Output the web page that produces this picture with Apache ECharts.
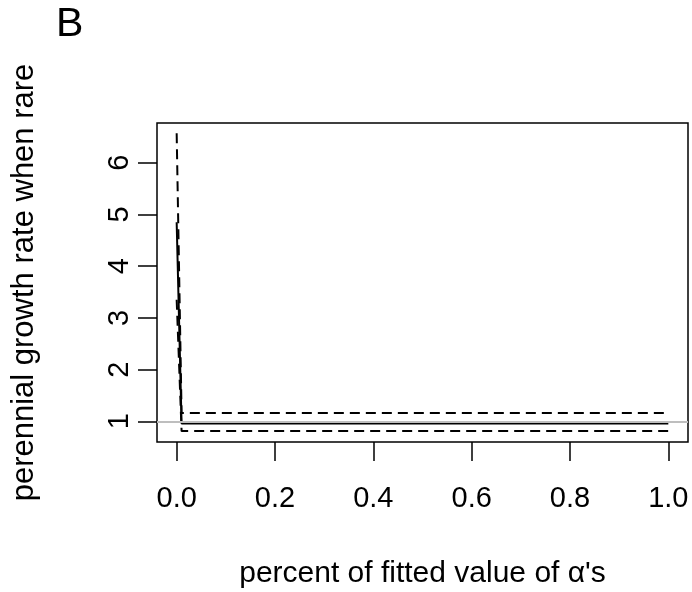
<!DOCTYPE html>
<html>
<head>
<meta charset="utf-8">
<script src="https://cdn.jsdelivr.net/npm/echarts@6/dist/echarts.min.js"></script>
<style>html,body{margin:0;padding:0;background:#fff;}#c{width:692px;height:592px;}</style>
</head>
<body>
<div id="c"></div>
<script>
const xValues = [0, 0.01, 0.25, 0.5, 0.75, 1.0];
const estimate = [4.85, 0.955, 0.955, 0.955, 0.955, 0.955];
const upperCI = [6.57, 1.16, 1.16, 1.16, 1.16, 1.16];
const lowerCI = [3.35, 0.81, 0.81, 0.81, 0.81, 0.81];
const xTicks = [0, 0.2, 0.4, 0.6, 0.8, 1.0];
const yTicks = [1, 2, 3, 4, 5, 6];
const refLine = 1;

const pair = ys => xValues.map((x, i) => [x, ys[i]]);
const font = "'Liberation Sans', Arial, Helvetica, sans-serif";

const chart = echarts.init(document.getElementById('c'), null, {renderer: 'canvas'});
chart.setOption({
  animation: false,
  backgroundColor: '#fff',
  title: {
    text: 'B', left: 51, top: -1,
    textStyle: {fontFamily: font, fontSize: 41, fontWeight: 'normal', color: '#000'}
  },
  grid: {
    left: 157, top: 123, right: 4, bottom: 150,
    outerBoundsMode: 'none', containLabel: false,
    show: true, borderColor: '#000', borderWidth: 1.5, backgroundColor: 'transparent'
  },
  xAxis: {
    type: 'value', min: -0.04, max: 1.04,
    name: "percent of fitted value of \u03b1's",
    nameLocation: 'middle', nameGap: 117,
    nameTextStyle: {fontFamily: font, fontSize: 30, color: '#000'},
    axisLine: {show: false, onZero: false},
    splitLine: {show: false},
    axisTick: {show: true, inside: false, length: 19, customValues: xTicks,
      lineStyle: {color: '#000', width: 1.5}},
    axisLabel: {customValues: xTicks, margin: 42, fontFamily: font, fontSize: 29, color: '#000',
      formatter: v => v.toFixed(1)}
  },
  yAxis: {
    type: 'value', min: 0.599, max: 6.769,
    name: 'perennial growth rate when rare',
    nameLocation: 'middle', nameGap: 117, nameRotate: 90,
    nameTextStyle: {fontFamily: font, fontSize: 31, color: '#000'},
    axisLine: {show: false, onZero: false},
    splitLine: {show: false},
    axisTick: {show: true, inside: false, length: 19, customValues: yTicks,
      lineStyle: {color: '#000', width: 1.5}},
    axisLabel: {customValues: yTicks, rotate: 90, margin: 23, fontFamily: font, fontSize: 29, color: '#000'}
  },
  series: [
    {
      type: 'line', data: pair(estimate), showSymbol: false, z: 3,
      lineStyle: {color: '#000', width: 2, type: 'solid'},
      markLine: {
        silent: true, symbol: 'none', label: {show: false},
        lineStyle: {color: '#bebebe', width: 2, type: 'solid'},
        data: [{yAxis: refLine}]
      }
    },
    {
      type: 'line', data: pair(upperCI), showSymbol: false, z: 4,
      lineStyle: {color: '#000', width: 2, type: [10, 6]}
    },
    {
      type: 'line', data: pair(lowerCI), showSymbol: false, z: 4,
      lineStyle: {color: '#000', width: 2, type: [10, 6]}
    }
  ]
});
</script>
</body>
</html>
